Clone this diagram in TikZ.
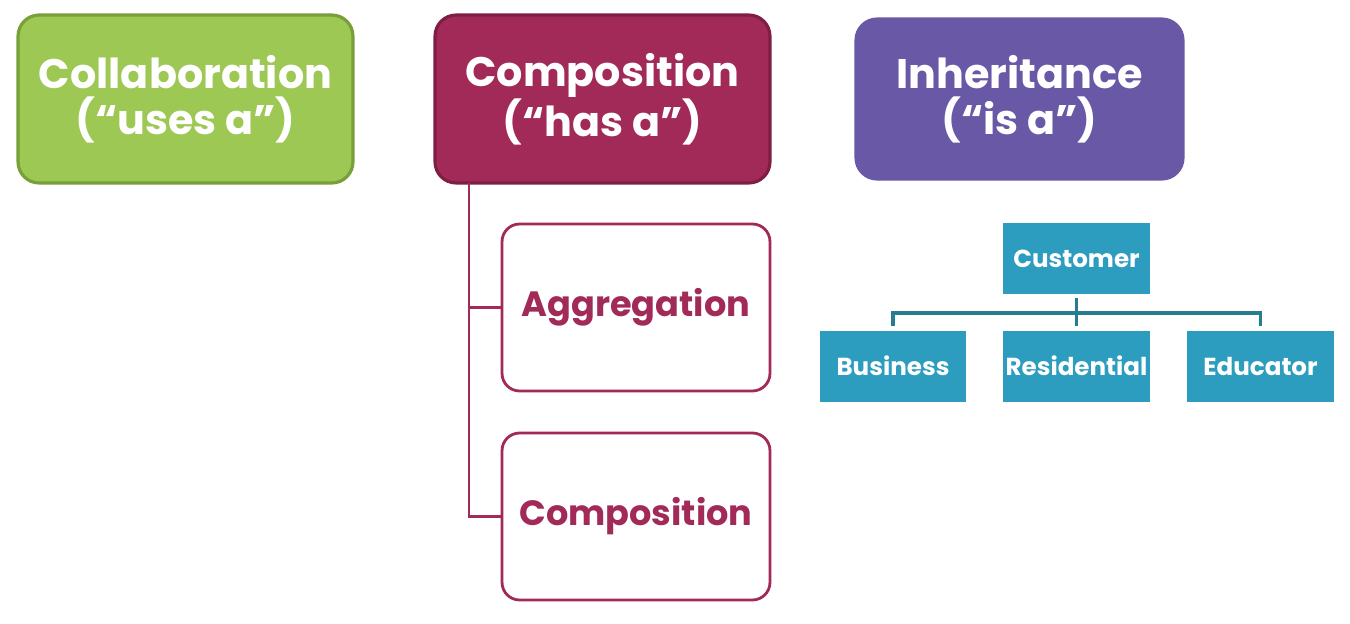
\documentclass[tikz,border=0pt]{standalone}
\usepackage{fontspec}
\setmainfont{Poppins}
\usetikzlibrary{positioning}

\definecolor{collabgreen}{HTML}{9CC853}
\definecolor{collabedge}{HTML}{779F3A}
\definecolor{compred}{HTML}{A12A58}
\definecolor{compedge}{HTML}{7E1E44}
\definecolor{inhpurple}{HTML}{6958A6}
\definecolor{custteal}{HTML}{2D9DBF}
\definecolor{custline}{HTML}{277C91}

\tikzset{
    bigbox/.style={rounded corners=12pt, line width=1.8pt, text=white,
        minimum width=6.7cm, minimum height=3.36cm, align=center,
        font=\fontsize{23.5}{26}\selectfont\bfseries},
    subbox/.style={draw=compred, fill=white, rounded corners=10pt, line width=1.6pt,
        minimum width=5.36cm, minimum height=3.34cm, text=compred,
        font=\fontsize{20}{23}\selectfont\bfseries},
    tealbox/.style={fill=custteal, text=white, minimum width=2.94cm,
        minimum height=1.42cm, inner sep=0pt, font=\fontsize{14}{16}\selectfont\bfseries},
}

\begin{document}
\begin{tikzpicture}[x=0.02cm, y=-0.02cm]
    \useasboundingbox[fill=white] (0,0) rectangle (1350,623);

    % Ba khoi lon
    \node[bigbox, fill=collabgreen, draw=collabedge] (collab) at (185.5,99) {Collaboration\\(“uses a”)};
    \node[bigbox, fill=compred, draw=compedge] (comp) at (602.5,99) {Composition\\(“has a”)};
    \node[bigbox, fill=inhpurple, draw=inhpurple, minimum width=6.54cm, minimum height=3.2cm] (inh) at (1019.5,99) {Inheritance\\(“is a”)};

    % Hai khoi con cua Composition
    \node[subbox] (aggr) at (636,307.5) {Aggregation};
    \node[subbox] (compsub) at (636,516.5) {Composition};
    \coordinate (trunk) at (469,183);
    \draw[compred, line width=1.6pt] (trunk) |- (compsub.west);
    \draw[compred, line width=1.6pt] (trunk |- aggr.west) -- (aggr.west);

    % Cay ke thua
    \node[tealbox] (cust) at (1076.5,258.5) {Customer};
    \node[tealbox] (biz) at (893,366) {Business};
    \node[tealbox] (resi) at (1076.5,366) {Residential};
    \node[tealbox] (edu) at (1260.5,366) {Educator};
    \coordinate (bar) at (1076.5,313);
    \draw[custline, line width=1.8pt] ([yshift=-0.08cm]cust.south) -- ([yshift=0.08cm]resi.north);
    \draw[custline, line width=1.8pt] ([yshift=0.08cm]biz.north) |- (bar) -| ([yshift=0.08cm]edu.north);
\end{tikzpicture}
\end{document}
